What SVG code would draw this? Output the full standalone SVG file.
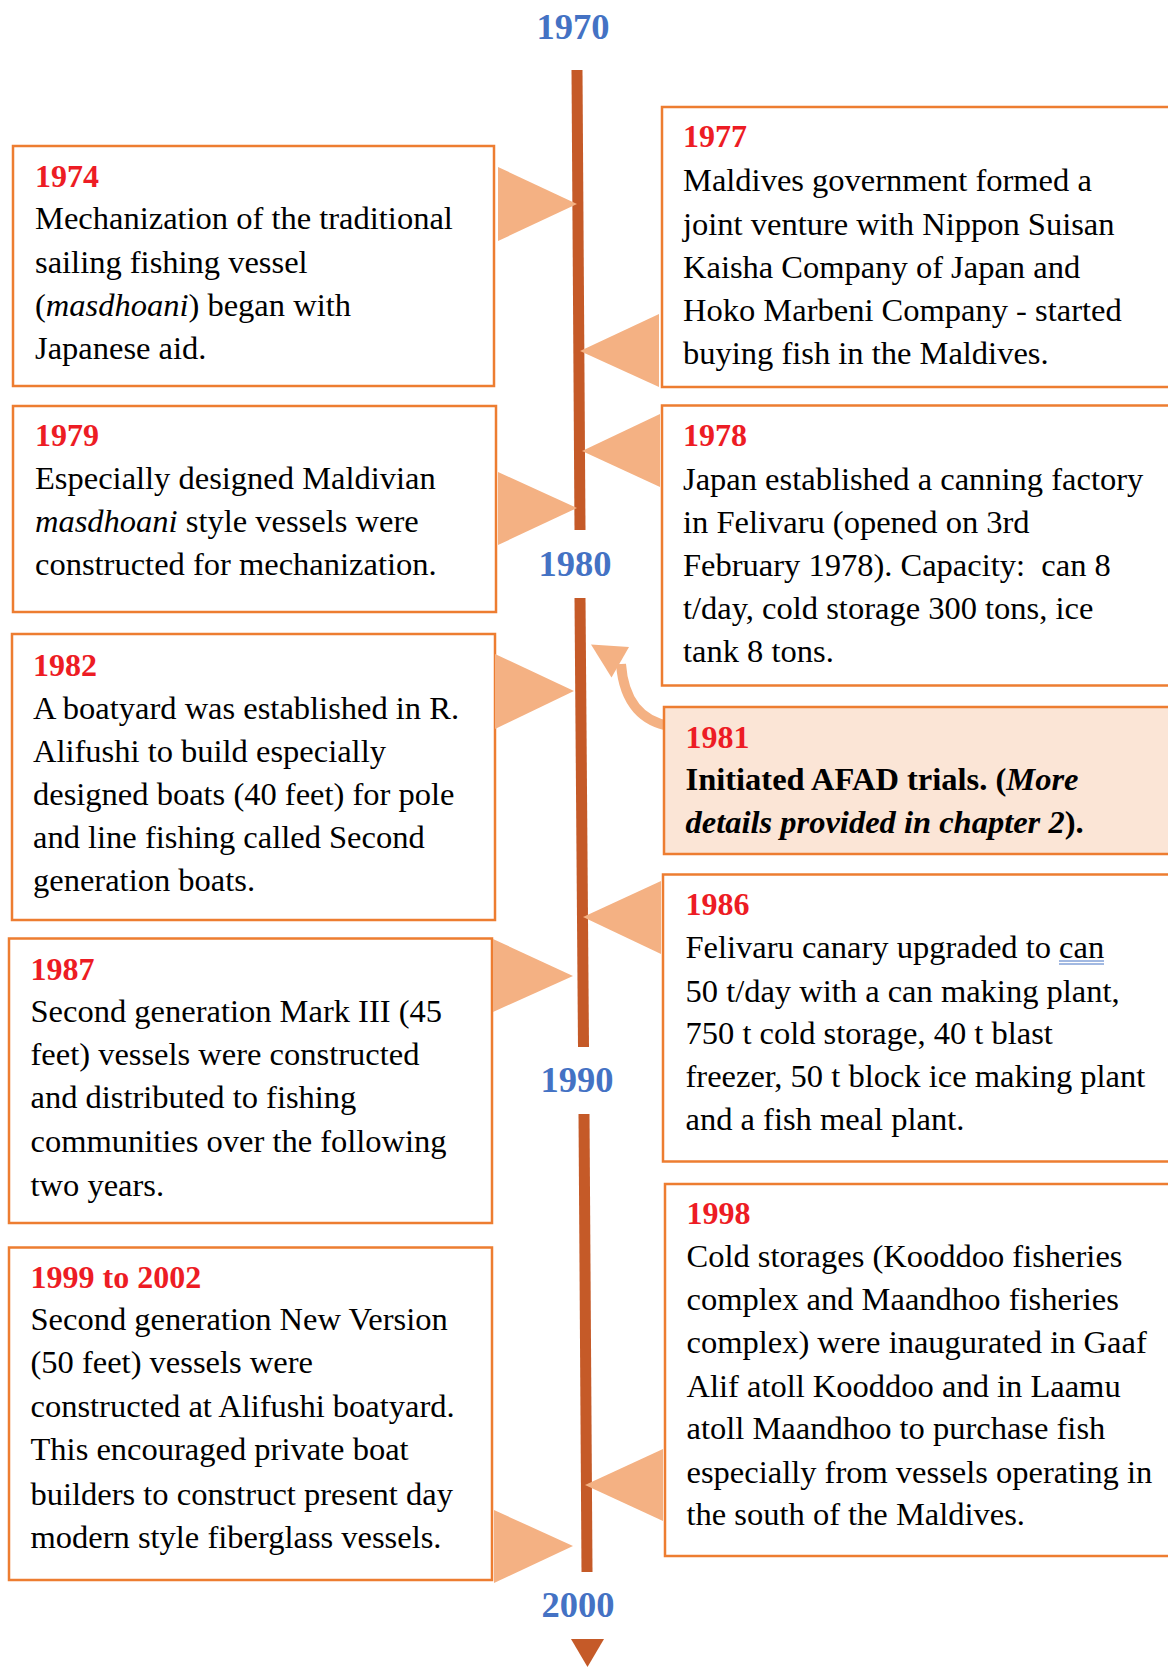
<svg xmlns="http://www.w3.org/2000/svg" width="1168" height="1667" viewBox="0 0 1168 1667">
<style>
text { font-family: "Liberation Serif", "Times New Roman", serif; fill: #000; }
.dec { font-size: 36.5px; font-weight: bold; fill: #4472C4; text-anchor: middle; }
.yr { font-size: 32px; font-weight: bold; fill: #ED1C24; }
.bd { font-size: 32.5px; }
.box { fill: #FFFFFF; stroke: #ED7D31; stroke-width: 2.5; }
.hl { fill: #FBE5D6; stroke: #ED7D31; stroke-width: 2.5; }
.ptr { fill: #F4B183; stroke: none; }
.axis { stroke: #C55A28; stroke-width: 11; fill: none; }
</style>

<g id="timeline">
  <text class="dec" x="573" y="39">1970</text>
  <line class="axis" x1="577" y1="70" x2="580" y2="530"/>
  <text class="dec" x="575" y="576">1980</text>
  <line class="axis" x1="580" y1="598" x2="583.5" y2="1047"/>
  <text class="dec" x="577" y="1092">1990</text>
  <line class="axis" x1="584" y1="1114" x2="587" y2="1572"/>
  <text class="dec" x="578" y="1617">2000</text>
  <polygon points="571,1639 604,1639 587.5,1667" fill="#C55A28"/>
</g>

<g id="connectors">
  <path d="M 670 726 C 645 722, 624 705, 621 664" fill="none" stroke="#F4B183" stroke-width="10"/>
  <polygon class="ptr" points="591,644.5 611.5,677.5 629,647"/>
</g>

<g id="n1974">
  <rect class="box" x="13" y="146" width="481" height="240"/>
  <text class="yr" x="35" y="187">1974</text>
  <text class="bd" x="35" y="229.3">Mechanization of the traditional</text>
  <text class="bd" x="35" y="272.7">sailing fishing vessel</text>
  <text class="bd" x="35" y="316">(<tspan font-style="italic">masdhoani</tspan>) began with</text>
  <text class="bd" x="35" y="359.3">Japanese aid.</text>
  <polygon class="ptr" points="498,167 498,241 577,204"/>
</g>

<g id="n1977">
  <rect class="box" x="662" y="107" width="520" height="280"/>
  <text class="yr" x="683" y="147.4">1977</text>
  <text class="bd" x="683" y="191.4">Maldives government formed a</text>
  <text class="bd" x="683" y="234.7">joint venture with Nippon Suisan</text>
  <text class="bd" x="683" y="277.5">Kaisha Company of Japan and</text>
  <text class="bd" x="683" y="320.8">Hoko Marbeni Company - started</text>
  <text class="bd" x="683" y="363.6">buying fish in the Maldives.</text>
  <polygon class="ptr" points="659,314 659,387 580,351"/>
</g>

<g id="n1979">
  <rect class="box" x="13" y="406" width="483" height="206"/>
  <text class="yr" x="35" y="446">1979</text>
  <text class="bd" x="35" y="489">Especially designed Maldivian</text>
  <text class="bd" x="35" y="531.7"><tspan font-style="italic">masdhoani</tspan> style vessels were</text>
  <text class="bd" x="35" y="575">constructed for mechanization.</text>
  <polygon class="ptr" points="498,472 498,545 577,508"/>
</g>

<g id="n1978">
  <rect class="box" x="662" y="405.5" width="520" height="280"/>
  <text class="yr" x="683" y="446">1978</text>
  <text class="bd" x="683" y="490">Japan established a canning factory</text>
  <text class="bd" x="683" y="532.8">in Felivaru (opened on 3rd</text>
  <text class="bd" x="683" y="576" xml:space="preserve">February 1978). Capacity:  can 8</text>
  <text class="bd" x="683" y="619">t/day, cold storage 300 tons, ice</text>
  <text class="bd" x="683" y="662">tank 8 tons.</text>
  <polygon class="ptr" points="660,414 660,487 582,451"/>
</g>

<g id="n1982">
  <rect class="box" x="12" y="634" width="483" height="286"/>
  <text class="yr" x="33" y="676">1982</text>
  <text class="bd" x="33" y="719">A boatyard was established in R.</text>
  <text class="bd" x="33" y="762">Alifushi to build especially</text>
  <text class="bd" x="33" y="805">designed boats (40 feet) for pole</text>
  <text class="bd" x="33" y="848">and line fishing called Second</text>
  <text class="bd" x="33" y="891">generation boats.</text>
  <polygon class="ptr" points="495,654 495,729 574,691"/>
</g>

<g id="n1981">
  <rect class="hl" x="664" y="707" width="518" height="147"/>
  <text class="yr" x="685.5" y="748">1981</text>
  <text class="bd" x="685.5" y="790" font-weight="bold">Initiated AFAD trials. (<tspan font-style="italic">More</tspan></text>
  <text class="bd" x="685.5" y="833" font-weight="bold"><tspan font-style="italic">details provided in chapter 2</tspan>).</text>
</g>

<g id="n1986">
  <rect class="box" x="663" y="874.5" width="519" height="287"/>
  <text class="yr" x="685.5" y="915">1986</text>
  <text class="bd" x="685.5" y="958">Felivaru canary upgraded to can</text>
  <line x1="1059" y1="961" x2="1104" y2="961" stroke="#4472C4" stroke-width="1"/>
  <line x1="1059" y1="964" x2="1104" y2="964" stroke="#4472C4" stroke-width="1"/>
  <text class="bd" x="685.5" y="1001.7">50 t/day with a can making plant,</text>
  <text class="bd" x="685.5" y="1043.5">750 t cold storage, 40 t blast</text>
  <text class="bd" x="685.5" y="1087">freezer, 50 t block ice making plant</text>
  <text class="bd" x="685.5" y="1130">and a fish meal plant.</text>
  <polygon class="ptr" points="661,881 661,954 583,917"/>
</g>

<g id="n1987">
  <rect class="box" x="9" y="938.5" width="483" height="284.5"/>
  <text class="yr" x="30.5" y="979.5">1987</text>
  <text class="bd" x="30.5" y="1022">Second generation Mark III (45</text>
  <text class="bd" x="30.5" y="1065">feet) vessels were constructed</text>
  <text class="bd" x="30.5" y="1108">and distributed to fishing</text>
  <text class="bd" x="30.5" y="1152">communities over the following</text>
  <text class="bd" x="30.5" y="1195.6">two years.</text>
  <polygon class="ptr" points="493,939 493,1012 573,976"/>
</g>

<g id="n1998">
  <rect class="box" x="665" y="1184" width="517" height="372"/>
  <text class="yr" x="686.5" y="1224">1998</text>
  <text class="bd" x="686.5" y="1266.7">Cold storages (Kooddoo fisheries</text>
  <text class="bd" x="686.5" y="1310">complex and Maandhoo fisheries</text>
  <text class="bd" x="686.5" y="1352.7">complex) were inaugurated in Gaaf</text>
  <text class="bd" x="686.5" y="1396.7">Alif atoll Kooddoo and in Laamu</text>
  <text class="bd" x="686.5" y="1439">atoll Maandhoo to purchase fish</text>
  <text class="bd" x="686.5" y="1483">especially from vessels operating in</text>
  <text class="bd" x="686.5" y="1525">the south of the Maldives.</text>
  <polygon class="ptr" points="663,1449 663,1521 585,1485"/>
</g>

<g id="n1999">
  <rect class="box" x="9" y="1247.5" width="483" height="332.5"/>
  <text class="yr" x="30.5" y="1287.5">1999 to 2002</text>
  <text class="bd" x="30.5" y="1330">Second generation New Version</text>
  <text class="bd" x="30.5" y="1373">(50 feet) vessels were</text>
  <text class="bd" x="30.5" y="1417">constructed at Alifushi boatyard.</text>
  <text class="bd" x="30.5" y="1460">This encouraged private boat</text>
  <text class="bd" x="30.5" y="1505">builders to construct present day</text>
  <text class="bd" x="30.5" y="1547.7">modern style fiberglass vessels.</text>
  <polygon class="ptr" points="494,1510 494,1583 573,1546"/>
</g>
</svg>
